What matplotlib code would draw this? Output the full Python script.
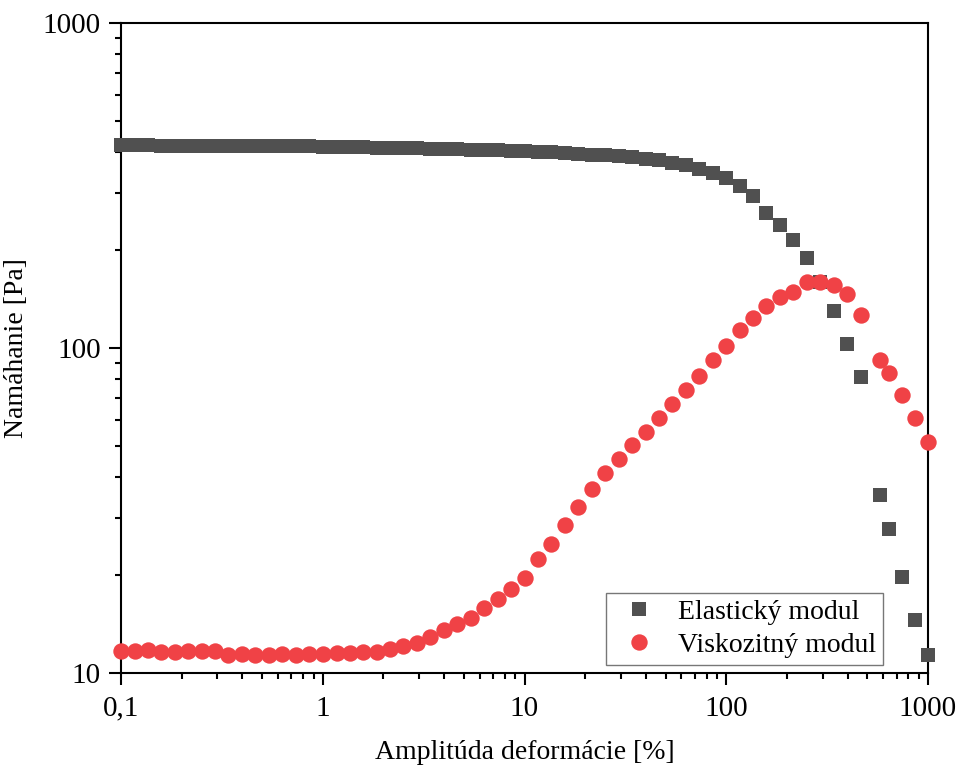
import matplotlib
matplotlib.use('Agg')
import matplotlib.pyplot as plt
from matplotlib.ticker import LogLocator, NullFormatter

plt.rcParams['font.family'] = ['Liberation Serif', 'DejaVu Serif']

# amplitude sweep [%]
strain = [0.1, 0.117, 0.136, 0.158, 0.185, 0.215, 0.251, 0.293, 0.341, 0.398,
          0.464, 0.541, 0.631, 0.736, 0.858, 1.0, 1.17, 1.36, 1.58, 1.85,
          2.15, 2.51, 2.93, 3.41, 3.98, 4.64, 5.41, 6.31, 7.36, 8.58,
          10.0, 11.7, 13.6, 15.8, 18.5, 21.5, 25.1, 29.3, 34.1, 39.8,
          46.4, 54.1, 63.1, 73.6, 85.8, 100, 117, 136, 158, 185,
          215, 251, 293, 341, 398, 464, 578, 641, 743, 863, 1000]

# elastic (storage) modulus [Pa]
g_elastic = [419, 419, 419, 418, 418, 418, 418, 417, 417, 417,
             417, 416, 416, 416, 416, 415, 415, 414, 414, 413,
             412, 411, 411, 410, 409, 408, 407, 406, 405, 404,
             402, 400, 399, 397, 395, 393, 391, 388, 385, 382,
             378, 371, 364, 355, 345, 333, 315, 293, 260, 238,
             215, 189, 159, 130, 103, 81, 35.2, 27.7, 19.7, 14.5, 11.3]

# viscous (loss) modulus [Pa]
g_viscous = [11.69, 11.69, 11.75, 11.61, 11.58, 11.67, 11.67, 11.67, 11.33, 11.41,
             11.33, 11.33, 11.41, 11.33, 11.41, 11.41, 11.46, 11.50, 11.58, 11.62,
             11.83, 12.08, 12.34, 12.92, 13.58, 14.12, 14.73, 15.81, 16.86, 18.09,
             19.56, 22.38, 24.89, 28.48, 32.34, 36.74, 41.15, 45.44, 50.18, 55.02,
             60.75, 67.08, 74.10, 81.82, 91.66, 101.2, 113.4, 123.5, 134.4, 143.2,
             148.4, 159.3, 159.3, 156.0, 146.3, 126.0, 91.7, 83.6, 71.5, 60.8, 51.3]

x_ticks = [0.1, 1, 10, 100, 1000]
x_ticklabels = ['0,1', '1', '10', '100', '1000']
y_ticks = [10, 100, 1000]
y_ticklabels = ['10', '100', '1000']

fig = plt.figure(figsize=(9.59, 7.71), dpi=100)
ax = fig.add_axes([121 / 959, 1 - 672.7 / 771, (928 - 121) / 959, (672.7 - 22.7) / 771])

ax.plot(strain, g_elastic, linestyle='none', marker='s', markersize=10.2,
        color='#505050', markeredgewidth=0,
        label='Elastický modul', clip_on=False, zorder=3)
ax.plot(strain, g_viscous, linestyle='none', marker='o', markersize=11.8,
        color='#F04246', markeredgewidth=0,
        label='Viskozitný modul', clip_on=False, zorder=4)

ax.set_xscale('log')
ax.set_yscale('log')
ax.set_xlim(0.1, 1000)
ax.set_ylim(10, 1000)

ax.set_xticks(x_ticks)
ax.set_xticklabels(x_ticklabels)
ax.set_yticks(y_ticks)
ax.set_yticklabels(y_ticklabels)
ax.xaxis.set_minor_locator(LogLocator(base=10, subs=range(2, 10), numticks=20))
ax.yaxis.set_minor_locator(LogLocator(base=10, subs=range(2, 10), numticks=20))
ax.xaxis.set_minor_formatter(NullFormatter())
ax.yaxis.set_minor_formatter(NullFormatter())

for sp in ax.spines.values():
    sp.set_linewidth(1.5)
ax.tick_params(which='major', direction='out', length=8.5, width=1.5,
               labelsize=21, top=False, right=False)
ax.tick_params(axis='x', which='major', pad=8)
ax.tick_params(axis='y', which='major', pad=6)
ax.tick_params(which='minor', direction='out', length=4.3, width=1.5,
               top=False, right=False)

ax.set_xlabel('Amplitúda deformácie [%]', fontsize=20, labelpad=13)
ax.set_ylabel('Namáhanie [Pa]', fontsize=20, labelpad=10)

leg = ax.legend(loc='lower right', bbox_to_anchor=(883 / 959, 1 - 665 / 771),
                bbox_transform=fig.transFigure, fontsize=20,
                frameon=True, fancybox=False, edgecolor='#555555',
                handlelength=1.9, handletextpad=0.45, labelspacing=0.27,
                borderpad=0.25, borderaxespad=0)
leg.get_frame().set_linewidth(1.0)

fig.savefig('out.png', dpi=100)
